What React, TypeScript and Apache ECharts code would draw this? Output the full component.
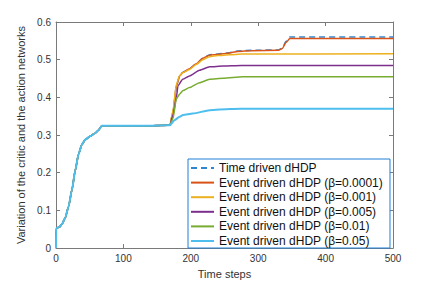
import React, { useEffect, useRef } from "react";
import * as echarts from "echarts";

// Shared early portion (all runs identical until t ≈ 168)
const commonSteps = [0, 0.3, 5, 8.7, 13.6, 18.6, 23.6, 28.5, 33.4, 38.4, 43.4, 50.8, 58, 63, 68, 100, 140, 166];
const commonValues = [0, 0.053, 0.056, 0.063, 0.08, 0.11, 0.154, 0.206, 0.249, 0.275, 0.288, 0.297, 0.305, 0.313, 0.325, 0.325, 0.325, 0.326];

const timeDrivenSteps = [169, 173.6, 178.6, 183.5, 188, 198, 208, 218, 228, 240, 255, 270, 290, 330, 336, 341, 347, 500];
const timeDrivenValues = [0.326, 0.361, 0.43, 0.457, 0.466, 0.476, 0.489, 0.504, 0.513, 0.515, 0.518, 0.523, 0.525, 0.526, 0.531, 0.548, 0.56, 0.56];

const beta00001Steps = [169, 173.6, 178.6, 183.5, 188, 198, 208, 218, 228, 240, 255, 270, 290, 330, 336, 341, 347, 500];
const beta00001Values = [0.326, 0.361, 0.43, 0.457, 0.466, 0.476, 0.489, 0.504, 0.512, 0.514, 0.517, 0.522, 0.524, 0.525, 0.53, 0.545, 0.556, 0.556];

const beta0001Steps = [169, 173.6, 178.6, 183.5, 188, 198, 208, 218, 228, 240, 258, 275, 500];
const beta0001Values = [0.326, 0.365, 0.435, 0.458, 0.465, 0.474, 0.487, 0.5, 0.508, 0.511, 0.513, 0.515, 0.5156];

const beta0005Steps = [169, 173.6, 178.6, 181, 188, 198, 213, 228, 248, 275, 500];
const beta0005Values = [0.326, 0.353, 0.4, 0.431, 0.448, 0.457, 0.472, 0.481, 0.483, 0.4844, 0.4844];

const beta001Steps = [169, 173.6, 178.6, 183.5, 188.5, 198, 213, 228, 248, 277, 500];
const beta001Values = [0.326, 0.344, 0.396, 0.409, 0.418, 0.426, 0.439, 0.448, 0.4506, 0.455, 0.455];

const beta005Steps = [169, 176, 183.5, 188.5, 203, 228, 258, 290, 500];
const beta005Values = [0.326, 0.34, 0.3486, 0.353, 0.357, 0.366, 0.369, 0.37, 0.37];

const seriesNames = [
  "Time driven dHDP",
  "Event driven dHDP (β=0.0001)",
  "Event driven dHDP (β=0.001)",
  "Event driven dHDP (β=0.005)",
  "Event driven dHDP (β=0.01)",
  "Event driven dHDP (β=0.05)",
];

const xTicks = [0, 100, 200, 300, 400, 500];
const yTicks = [0, 0.1, 0.2, 0.3, 0.4, 0.5, 0.6];

function build(steps: number[], values: number[]) {
  const pts: number[][] = [];
  commonSteps.forEach((t, i) => pts.push([t, commonValues[i]]));
  steps.forEach((t, i) => pts.push([t, values[i]]));
  return pts;
}

export default function App() {
  const ref = useRef<HTMLDivElement>(null);
  useEffect(() => {
    if (!ref.current) return;
    const chart = echarts.init(ref.current, undefined, { renderer: "svg" });
    const axisColor = "#7a7a7a";
    const labelColor = "#333333";
    const font = "'Liberation Sans', Arial, Helvetica, sans-serif";
    const colors = ["#2f86d0", "#D95319", "#EDB120", "#7E2F8E", "#77AC30", "#4DBEEE"];
    const datasets = [
      build(timeDrivenSteps, timeDrivenValues),
      build(beta00001Steps, beta00001Values),
      build(beta0001Steps, beta0001Values),
      build(beta0005Steps, beta0005Values),
      build(beta001Steps, beta001Values),
      build(beta005Steps, beta005Values),
    ];
    const series: any[] = datasets.map((d, k) => ({
      name: seriesNames[k],
      type: "line",
      data: d,
      symbol: "none",
      smooth: 0.2,
      smoothMonotone: "x",
      z: 2 + k,
      lineStyle: {
        color: colors[k],
        width: k === 5 ? 2 : 1.5,
        type: k === 0 ? [6, 4] : "solid",
      },
      itemStyle: { color: colors[k] },
    }));
    chart.setOption({
      animation: false,
      textStyle: { fontFamily: font },
      grid: { left: 56, right: 43, top: 22, bottom: 31, containLabel: false },
      legend: {
        data: seriesNames,
        orient: "vertical",
        left: 188,
        top: 159,
        width: 204,
        padding: [3, 7, 1, 2],
        itemGap: 2.6,
        itemWidth: 23,
        itemHeight: 12,
        backgroundColor: "#ffffff",
        borderColor: "#1f7fd6",
        borderWidth: 1,
        borderRadius: 0,
        itemStyle: { opacity: 0 },
        textStyle: { fontSize: 12, color: "#111111", lineHeight: 12 },
      },
      xAxis: [
        {
          type: "value",
          min: 0,
          max: 500,
          interval: 100,
          name: "Time steps",
          nameLocation: "middle",
          nameGap: 17,
          nameTextStyle: { fontSize: 11, color: labelColor },
          axisLine: { show: true, onZero: false, lineStyle: { color: axisColor, width: 1 } },
          axisTick: { show: true, inside: true, length: 4, lineStyle: { color: axisColor } },
          axisLabel: { fontSize: 10, color: labelColor, margin: 5, formatter: (v: number) => (xTicks.includes(v) ? String(v) : "") },
          splitLine: { show: false },
        },
        {
          type: "value",
          position: "top",
          min: 0,
          max: 500,
          interval: 100,
          axisLine: { show: true, onZero: false, lineStyle: { color: axisColor, width: 1 } },
          axisTick: { show: true, inside: true, length: 4, lineStyle: { color: axisColor } },
          axisLabel: { show: false },
          splitLine: { show: false },
        },
      ],
      yAxis: [
        {
          type: "value",
          min: 0,
          max: 0.6,
          interval: 0.1,
          name: "Variation of the critic and the action networks",
          nameLocation: "middle",
          nameGap: 22,
          nameTextStyle: { fontSize: 11, color: labelColor },
          axisLine: { show: true, onZero: false, lineStyle: { color: axisColor, width: 1 } },
          axisTick: { show: true, inside: true, length: 4, lineStyle: { color: axisColor } },
          axisLabel: {
            fontSize: 10,
            color: labelColor,
            margin: 5,
            formatter: (v: number) => {
              const r = Math.round(v * 10) / 10;
              return yTicks.includes(r) ? (r === 0 ? "0" : r.toFixed(1)) : "";
            },
          },
          splitLine: { show: false },
        },
        {
          type: "value",
          position: "right",
          min: 0,
          max: 0.6,
          interval: 0.1,
          axisLine: { show: true, onZero: false, lineStyle: { color: axisColor, width: 1 } },
          axisTick: { show: true, inside: true, length: 4, lineStyle: { color: axisColor } },
          axisLabel: { show: false },
          splitLine: { show: false },
        },
      ],
      series,
    });
    return () => chart.dispose();
  }, []);
  return <div ref={ref} style={{ width: 436, height: 284, position: "absolute", left: 0, top: 0, background: "#fff" }} />;
}
